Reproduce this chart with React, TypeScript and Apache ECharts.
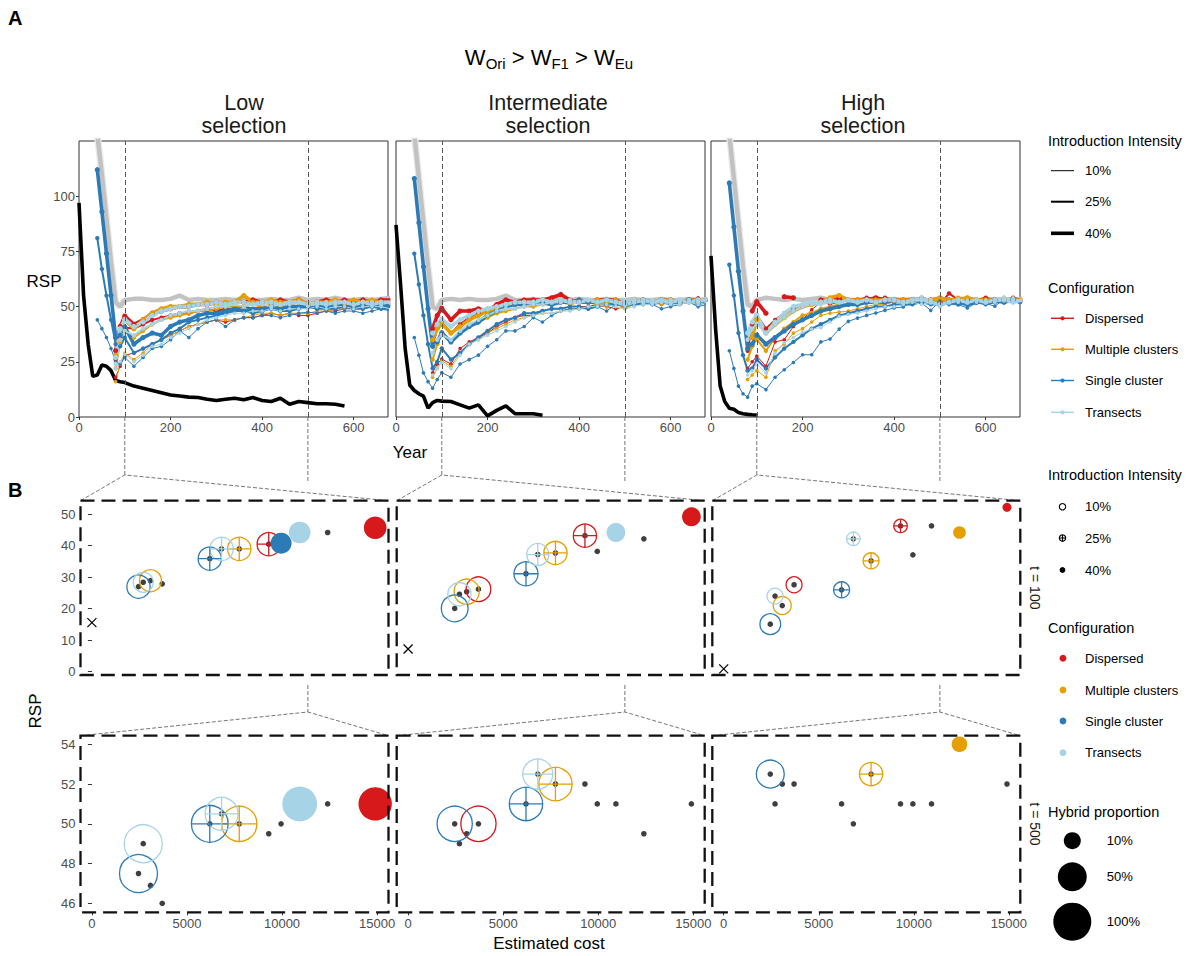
import React, { useEffect, useRef } from 'react';
import * as echarts from 'echarts';

const FONT = "'Liberation Sans', Arial, Helvetica, sans-serif";
const N = null;

// Sampling years of the simulated trajectories
const YEARS = [40, 50, 60, 70, 80, 90, 100, 120, 140, 160, 180, 200, 220, 240, 260, 280, 300, 320, 340, 360, 380, 400, 420, 440, 460, 480, 500, 520, 540, 560, 580, 600, 620, 640, 660, 680];
const YEAR_T100 = 100;
const YEAR_T500 = 500;

// ---- Low selection: RSP per configuration and introduction intensity (10 / 25 / 40 %)
const LOW_D10 = [N, N, N, N, 18, 23, 27.9, 29, 31, 33, 35, 37, 39, 41, 42, 43, 44, 43, 44, 45, 45, 46, 47, 46, 47, 46, 46, 47, 48, 48, 49, 49, 50, 50, 50, 51];
const LOW_D25 = [N, N, N, N, 26, 36, 40.5, 40, 42, 44, 45, 46, 47, 47, 48, 49, 48, 49, 49, 50, 49, 50, 50, 51, 50, 50, 49.5, 50, 51, 51, 52, 51, 52, 51, 52, 52];
const LOW_D40 = [N, N, N, N, 30, 41, 45.7, 42, 44, 47, 48, 49, 50, 50, 51, 51, 52, 51, 52, 52, 53, 52, 52, 53, 52, 53, 51, 52, 53, 52, 53, 52, 53, 52, 53, 53];
const LOW_M10 = [N, N, N, N, 16, 24, 28.9, 26, 29, 33, 35, 37, 39, 41, 42, 43, 44, 44, 44, 45, 46, 47, 47, 46, 47, 47, 46.9, 48, 48, 49, 49, 50, 49, 50, 50, 50];
const LOW_M25 = [N, N, N, N, 22, 34, 39, 36, 39, 42, 44, 45, 46, 47, 48, 48, 49, 50, 50, 50, 51, 50, 51, 50, 51, 50, 50, 51, 51, 50, 51, 51, 52, 51, 52, 51];
const LOW_M40 = [N, N, N, N, 28, 40, 44.2, 40, 44, 47, 49, 50, 50, 51, 51, 52, 51, 52, 52, 55, 52, 52, 53, 52, 52, 53, 51, 52, 52, 53, 52, 53, 52, 53, 52, 52];
const LOW_S10 = [44, 40, 36, 31, 25, 24, 27, 23, 27, 31, 32, 35, 39, 36, 40, 43, 44, 41, 44, 45, 45, 46, 46, 45, 46, 47, 47.5, 47, 48, 47, 48, 48, 47, 48, 49, 48];
const LOW_S25 = [81, 67, 55, 44, 33, 32, 35.9, 29, 31, 33, 35, 38, 40, 43, 44, 45, 46, 47, 48, 48, 47, 48, 49, 48, 48, 49, 50, 49, 49, 49, 50, 49, 49, 50, 49, 49];
const LOW_S40 = [112, 93, 74, 55, 36, 37, 40.8, 33, 36, 38, 37, 41, 43, 44, 46, 47, 47, 48, 49, 48, 49, 49, 50, 49, 50, 50, 50, 50, 50, 51, 50, 50, 51, 50, 51, 50];
const LOW_T10 = [N, N, N, N, 22, 25, 28.4, 25, 28, 32, 33, 36, 38, 40, 42, 44, 45, 46, 47, 47, 48, 48, 49, 48, 49, 49, 49, 50, 49, 50, 50, 49, 50, 50, 50, 49];
const LOW_T25 = [N, N, N, N, 24, 35, 39, 37, 40, 42, 44, 46, 47, 48, 48, 49, 50, 50, 51, 50, 51, 51, 50, 51, 51, 52, 50.5, 51, 52, 51, 52, 51, 52, 52, 51, 52];
const LOW_T40 = [N, N, N, N, 27, 40, 44.2, 41, 43, 46, 48, 49, 50, 50, 51, 51, 52, 51, 52, 52, 51, 52, 52, 51, 52, 52, 51, 52, 51, 52, 52, 51, 52, 51, 52, 52];

// ---- Intermediate selection
const INT_D10 = [N, N, N, N, 20, 24, 26.2, 24, 31, 34, 36, 38, 41, 43, 45, 46, 46, 48, 49, 49, 50, 50, 50, 51, 50, 49, 50, 51, 51, 52, 51, 52, 52, 53, 54, 52];
const INT_D25 = [N, N, N, N, 32, 40, 43.2, 38, 42, 45, 47, 49, 50, 51, 51, 52, 51, 52, 52, 53, 52, 52, 53, 52, 52, 51, 52, 52, 53, 52, 53, 52, 53, 52, 53, 53];
const INT_D40 = [N, N, N, N, 40, 46, 49.2, 44, 48, 48, 49, 48, 51, 53, 52, 53, 53, 53, 54, 55.5, 53, 52, 52, 53, 53, 53, 51, 52, 53, 52, 53, 53, 52, 53, 53, 53];
const INT_M10 = [N, N, N, N, 18, 22, 25.4, 23, 29, 33, 35, 38, 40, 42, 44, 45, 46, 47, 47, 48, 49, 49, 49, 50, 50, 51, 49.5, 51, 51, 52, 51, 52, 51, 52, 52, 53];
const INT_M25 = [N, N, N, N, 26, 33, 37.7, 34, 38, 41, 43, 45, 47, 48, 49, 50, 50, 51, 51, 52, 51, 52, 52, 51, 52, 52, 52, 53, 52, 52, 53, 52, 53, 52, 53, 52];
const INT_M40 = [N, N, N, N, 35, 40, 42.2, 38, 41, 44, 46, 48, 49, 51, 51, 52, 52, 53, 52, 53, 52, 53, 52, 53, 52, 53, 49.5, 52, 53, 52, 53, 53, 52, 53, 53, 53];
const INT_S10 = [36, 28, 20, 16, 13, 17, 20.1, 18, 24, 26, 28, 32, 35, 39, 39, 41, 45, 43, 46, 48, 49, 49, 50, 50, 48, 51, 50, 51, 51, 51, 49, 50, 51, 52, 50, 51];
const INT_S25 = [74, 60, 46, 33, 22, 25, 31.1, 26, 29, 33, 36, 39, 42, 44, 45, 47, 47, 48, 49, 49, 50, 50, 49, 50, 51, 51, 51, 51, 52, 51, 52, 51, 52, 52, 51, 52];
const INT_S40 = [108, 88, 68, 49, 32, 34, 38.2, 34, 38, 41, 43, 46, 48, 50, 51, 51, 52, 52, 51, 52, 52, 53, 52, 52, 53, 52, 51, 52, 53, 52, 53, 52, 52, 53, 52, 53];
const INT_T10 = [N, N, N, N, 19, 22, 24.6, 22, 28, 33, 35, 37, 39, 41, 43, 45, 46, 47, 47, 48, 48, 49, 50, 50, 51, 50, 49, 50, 51, 51, 52, 51, 51, 52, 51, 52];
const INT_T25 = [N, N, N, N, 29, 35, 37.2, 35, 39, 42, 44, 46, 48, 49, 49, 50, 51, 51, 52, 52, 53, 52, 53, 52, 53, 52, 52.5, 53, 52, 53, 52, 53, 52, 53, 52, 53];
const INT_T40 = [N, N, N, N, 38, 42, 44.2, 41, 44, 46, 48, 49, 50, 51, 52, 52, 52, 53, 52, 53, 52, 52, 53, 52, 53, 52, 51, 52, 53, 52, 53, 52, 53, 52, 53, 53];

// ---- High selection
const HIGH_D10 = [N, N, N, N, 22, 25, 27.6, 23, 34, 35, 41, 44, 48.6, 52, 51, 52, 53, 52, 53, 52, 53, 52, 53, 52, 53, 52, 52, 52, 53, 52, 53, 52, 53, 52, 53, 52];
const HIGH_D25 = [N, N, N, N, 30, 42, 46.3, 40, 44, 47, 49, 50, 51, 52, 52, 53, 53, 53, 54, 53, 54, 53, 53, 53, 54, 53, 51, 56, 53, 53, 53, 54, 53, 53, 54, 53];
const HIGH_D40 = [N, N, N, N, N, 48, 52.2, 47, N, 54.5, 54, N, N, 53, 53, 54, 53, 53, 53, 54, 53, 53, 53, 53, 53, 53, 52, 53, 53, 53, 53, 53, 53, 53, 53, 53];
const HIGH_M10 = [N, N, N, N, 17, 19, 21, 18, 30, 33, 38, 40, 43, 46, 47, 47.5, 48, 49, 50, 51, 51, 52, 52, 52, 52, 53, 52, 52, 53, 52, 52, 53, 52, 53, 52, 52];
const HIGH_M25 = [N, N, N, N, 26, 32, 35.2, 30, 36, 40, 43, 46, 47, 49, 50, 51, 51, 52, 52, 53, 52, 53, 52, 53, 52, 53, 52.5, 53, 54, 54, 53, 52, 53, 54, 53, 53];
const HIGH_M40 = [N, N, N, N, N, 36, 44.2, 38, 42, 45, 48, 50, 51, 52, 54, 55, 53, 53, 53, 53, 53, 53, 53, 53, 53, 53, 54, 53, 53, 54, 53, 53, 53, 53, 53, 53];
const HIGH_S10 = [30, 22, 14, 10.5, 9, 14, 15.1, 12.4, 18, 21.4, 24.7, 28.2, 28.2, 34, 35.3, 39.8, 43.3, 44.8, 46, 47.1, 48.3, 49.4, 49.8, 52.4, 51.7, 48.3, 52.5, 50.9, 50.9, 49.4, 51.7, 51.4, 50.2, 53.2, 52.4, 50.9];
const HIGH_S25 = [69, 55, 38, 28, 21, 22, 26, 22, 27, 31, 34, 37, 40, 42, 44, 46, 47, 48, 49, 50, 50, 51, 51, 51, 52, 51, 51, 52, 51, 52, 52, 51, 52, 52, 53, 52];
const HIGH_S40 = [106, 86, 66, 48, 31, 33, 37.1, 33, 36, 39, 42, 44, 46, 48, 49, 50, 51, 51, 52, 52, 52, 53, 52, 53, 52, 52, 51, 52, 52, 51, 52, 52, 53, 52, 53, 52];
const HIGH_T10 = [N, N, N, N, 19, 21, 24, 20, 29, 33.6, 36, 38.5, 39.8, 40.5, 43, 45.6, 46.4, 47.1, 48, 49, 50, 50, 51, 52, 51, 52, 51, 52, 52, 53, 52, 53, 52, 53, 54, 52];
const HIGH_T25 = [N, N, N, N, 35, 40, 42.2, 38, 42, 45, 48, 50, 51, 51, 52, 52, 53, 52, 53, 52, 53, 53, 52, 53, 54, 53, 50, 52, 53, 52, 53, 52, 53, 54, 53, 53];
const HIGH_T40 = [N, N, N, N, 38, 43, 46.3, 38, 43, 47, 50, 51, 52, 52, 53, 52, 53, 52, 53, 52, 53, 53, 52, 53, 53, 52, 51, 52, 53, 52, 53, 52, 53, 53, 52, 53];

// Reference without hybridisation (grey) per selection level
const LOW_GREY = [128, 110, 90, 70, 52, 50, 53, 53.5, 53.5, 53, 53, 53.5, 55, 53, 53.5, 53, 53, 53.5, 53, 53.5, 53, 53, 53.5, 53, 53, 54, 53, 53.5, 53, 54, 53, 53, 53.5, 53, 53.5, 54];
const INT_GREY = [128, 108, 88, 68, 50, 49, 53, 53.5, 53, 53.5, 53, 53, 53.5, 55, 53, 53, 53.5, 53, 53.5, 53, 53, 53.5, 53, 53, 53.5, 53, 53, 53.5, 53, 53, 53.5, 53, 53, 53.5, 53, 53.5];
const HIGH_GREY = [128, 108, 88, 68, 51, 50, 53, 54, 53.5, 53, 53.5, 53, 53.5, 54, 53, 53.5, 53, 53, 53.5, 53, 53, 53.5, 53, 53.5, 53, 53, 53.5, 53, 53, 53.5, 53, 53, 53.5, 53, 53, 53.5];

// No-intervention trajectories (black)
const LOW_BLACK_YEARS = [0, 10, 20, 30, 40, 50, 60, 70, 80, 90, 100, 120, 140, 160, 180, 200, 220, 240, 260, 280, 300, 320, 340, 360, 380, 400, 420, 440, 460, 480, 500, 520, 540, 560, 580];
const LOW_BLACK = [97, 55, 33, 18.5, 19, 23.5, 23, 21, 16.5, 16, 15.6, 14, 13, 12, 11, 10, 9.5, 9, 8.8, 8, 7.5, 8, 8.5, 7.8, 8.8, 7.5, 7, 8.5, 5.8, 7, 6.5, 6, 6, 5.8, 5];
const INT_BLACK_YEARS = [0, 10, 20, 30, 40, 50, 60, 70, 80, 90, 100, 120, 140, 160, 180, 200, 220, 240, 260, 280, 300, 320];
const INT_BLACK = [87, 60, 31, 14.5, 12, 10.5, 9.5, 4, 6.5, 7.5, 7.2, 7, 5.5, 4, 5.5, 0.5, 3, 5, 1.5, 1.5, 1.5, 0.8];
const HIGH_BLACK_YEARS = [0, 10, 20, 30, 40, 50, 60, 70, 80, 90, 100];
const HIGH_BLACK = [73, 40, 14, 7, 4, 3.5, 2, 1.5, 1.2, 1, 0.9];

// Estimated cost of each strategy (intensity 10 / 25 / 40 %)
const COST_D = [3700, 9300, 14900];
const COST_M = [3080, 7750, 12400];
const COST_S = [2450, 6200, 9950];
const COST_T = [2700, 6820, 10930];

// Hybrid proportion per configuration (rows D, M, S, T; columns 10 / 25 / 40 %)
const HYB_LOW_T100 = [[0, 0.27, 0.25], [0.23, 0.27, 0], [0.27, 0.27, 0.2], [0.17, 0.27, 0.22]];
const HYB_INT_T100 = [[0.32, 0.27, 0.14], [0.34, 0.27, 0], [0.4, 0.3, 0], [0.27, 0.23, 0.14]];
const HYB_HIGH_T100 = [[0.08, 0.04, 0.003], [0.12, 0.08, 0.03], [0.19, 0.08, 0], [0.08, 0.04, 0]];
const HYB_LOW_T500 = [[0, 0, 0.72], [0, 0.83, 0], [1.0, 0.92, 0], [1.0, 0.7, 0.8]];
const HYB_INT_T500 = [[0.83, 0, 0], [0, 0.72, 0], [0.83, 0.72, 0], [0, 0.55, 0]];
const HYB_HIGH_T500 = [[0, 0, 0], [0, 0.27, 0.075], [0.45, 0, 0], [0, 0, 0]];

const SELECTION_TITLES = [['Low', 'selection'], ['Intermediate', 'selection'], ['High', 'selection']];
const CONFIGS = ['Dispersed', 'Multiple clusters', 'Single cluster', 'Transects'];
const CONFIG_COLORS = ['#D7191C', '#E69F00', '#2C7BB6', '#A6D4E6'];
const INTENSITIES = ['10%', '25%', '40%'];
const HYBRID_LEGEND = [0.1, 0.5, 1];
const HYBRID_LEGEND_LABELS = ['10%', '50%', '100%'];
const YEAR_TICKS = [0, 200, 400, 600];
const RSP_TICKS_A = [0, 25, 50, 75, 100];
const RSP_TICKS_T100 = [0, 10, 20, 30, 40, 50];
const RSP_TICKS_T500 = [46, 48, 50, 52, 54];
const COST_TICKS = [0, 5000, 10000, 15000];

// ---- layout
const A_LEFT = [79, 396, 711];
const A_TOP = 141;
const A_W = 309;
const A_H = 276;
const YEAR_MAX = 675;
const B_LEFT = [80.5, 396.7, 712.3];
const B_W = 308;
const B_TOP = [500.7, 735.7];
const B_H = [174.3, 176.6];
const LINE_W = [1, 2, 3.6];
const PT_SIZE = [3.6, 4.4, 5.2];
const CROSS_PATH = 'path://M0,-10L0,10M-10,0L10,0';
const X_PATH = 'path://M-10,-10L10,10M-10,10L10,-10';

const hybridSize = (p: number) => 7.3 + 30.7 * Math.sqrt(p);
const pairs = (xs: number[], ys: (number | null)[]) => xs.map((x, i) => [x, ys[i] == null ? '-' : ys[i]]);
const plain = (v: number) => String(v);

function buildOption() {
  const selections = [
    { lines: [[LOW_D10, LOW_D25, LOW_D40], [LOW_M10, LOW_M25, LOW_M40], [LOW_S10, LOW_S25, LOW_S40], [LOW_T10, LOW_T25, LOW_T40]], grey: LOW_GREY, by: LOW_BLACK_YEARS, black: LOW_BLACK, hyb: [HYB_LOW_T100, HYB_LOW_T500] },
    { lines: [[INT_D10, INT_D25, INT_D40], [INT_M10, INT_M25, INT_M40], [INT_S10, INT_S25, INT_S40], [INT_T10, INT_T25, INT_T40]], grey: INT_GREY, by: INT_BLACK_YEARS, black: INT_BLACK, hyb: [HYB_INT_T100, HYB_INT_T500] },
    { lines: [[HIGH_D10, HIGH_D25, HIGH_D40], [HIGH_M10, HIGH_M25, HIGH_M40], [HIGH_S10, HIGH_S25, HIGH_S40], [HIGH_T10, HIGH_T25, HIGH_T40]], grey: HIGH_GREY, by: HIGH_BLACK_YEARS, black: HIGH_BLACK, hyb: [HYB_HIGH_T100, HYB_HIGH_T500] },
  ];
  const costs = [COST_D, COST_M, COST_S, COST_T];
  const grids: any[] = [];
  const xAxes: any[] = [];
  const yAxes: any[] = [];
  const series: any[] = [];
  const tickStyle = { color: '#333', width: 1 };
  const labelStyle = { color: '#4D4D4D', fontSize: 13, fontFamily: FONT, formatter: plain };

  // Panel A grids
  for (let s = 0; s < 3; s++) {
    grids.push({ left: A_LEFT[s], top: A_TOP, width: A_W, height: A_H, show: true, borderColor: '#333', borderWidth: 1, backgroundColor: 'transparent' });
    xAxes.push({
      type: 'value', gridIndex: s, min: 0, max: YEAR_MAX,
      axisLine: { show: false }, splitLine: { show: false },
      axisTick: { show: true, length: 3, lineStyle: tickStyle, customValues: YEAR_TICKS },
      axisLabel: { ...labelStyle, margin: 4, customValues: YEAR_TICKS },
    });
    yAxes.push({
      type: 'value', gridIndex: s, min: 0, max: 125,
      axisLine: { show: false }, splitLine: { show: false },
      axisTick: { show: s === 0, length: 3, lineStyle: tickStyle, customValues: RSP_TICKS_A },
      axisLabel: { show: s === 0, ...labelStyle, margin: 4, customValues: RSP_TICKS_A },
    });
  }
  // Panel B grids (row: t = 100, t = 500)
  for (let r = 0; r < 2; r++) {
    for (let s = 0; s < 3; s++) {
      const gi = grids.length;
      grids.push({ left: B_LEFT[s], top: B_TOP[r], width: B_W, height: B_H[r], show: false });
      xAxes.push({
        type: 'value', gridIndex: gi, min: -600, max: 15600,
        axisLine: { show: false }, splitLine: { show: false },
        axisTick: { show: r === 1, length: 3, lineStyle: tickStyle, customValues: COST_TICKS },
        axisLabel: { show: r === 1, ...labelStyle, margin: 5, customValues: COST_TICKS },
      });
      const ticks = r === 0 ? RSP_TICKS_T100 : RSP_TICKS_T500;
      yAxes.push({
        type: 'value', gridIndex: gi,
        min: r === 0 ? -1.05 : 45.55, max: r === 0 ? 54.3 : 54.43,
        axisLine: { show: false }, splitLine: { show: false },
        axisTick: { show: s === 0, length: 4, lineStyle: tickStyle, customValues: ticks },
        axisLabel: { show: s === 0, ...labelStyle, margin: 5, customValues: ticks },
      });
    }
  }

  const common = { silent: true, emphasis: { disabled: true }, animation: false };

  selections.forEach((sel, s) => {
    // faint ribbon along the early decline of the reference
    series.push({ ...common, type: 'line', xAxisIndex: s, yAxisIndex: s, data: pairs(YEARS.slice(0, 7), sel.grey.slice(0, 7)), symbol: 'none', lineStyle: { color: '#EBEBEB', width: 7 } });
    series.push({
      ...common, type: 'line', xAxisIndex: s, yAxisIndex: s, data: pairs(YEARS, sel.grey), symbol: 'none',
      lineStyle: { color: '#C2C2C2', width: 4.5 },
      markLine: {
        silent: true, symbol: ['none', 'none'], label: { show: false },
        lineStyle: { color: '#555', type: [5, 3], width: 1 },
        data: [{ xAxis: YEAR_T100 }, { xAxis: YEAR_T500 }],
      },
    });
    sel.lines.forEach((cfg, c) => {
      cfg.forEach((vals, j) => {
        series.push({
          ...common, type: 'line', xAxisIndex: s, yAxisIndex: s, data: pairs(YEARS, vals),
          symbol: 'circle', symbolSize: PT_SIZE[j], showSymbol: true,
          lineStyle: { color: CONFIG_COLORS[c], width: LINE_W[j] },
          itemStyle: { color: CONFIG_COLORS[c], opacity: 1 },
        });
      });
    });
    series.push({ ...common, type: 'line', xAxisIndex: s, yAxisIndex: s, data: pairs(sel.by, sel.black), symbol: 'none', lineStyle: { color: '#000', width: 3.6 } });

    // Panel B: snapshots at t = 100 and t = 500
    [YEAR_T100, YEAR_T500].forEach((yr, r) => {
      const ai = 3 + r * 3 + s;
      const yi = YEARS.indexOf(yr);
      const dark: any[] = [];
      const open: any[] = [];
      const cross: any[] = [];
      const filled: any[] = [];
      sel.lines.forEach((cfg, c) => {
        cfg.forEach((vals, j) => {
          const rsp = vals[yi];
          const cost = costs[c][j];
          const p = sel.hyb[r][c][j];
          dark.push([cost, rsp]);
          if (p > 0) {
            const item = { value: [cost, rsp, p], color: CONFIG_COLORS[c] };
            [open, cross, filled][j].push(item);
          }
        });
      });
      const sized = (v: any) => hybridSize(v[2]);
      series.push({ ...common, type: 'scatter', xAxisIndex: ai, yAxisIndex: ai, data: dark, symbol: 'circle', symbolSize: 5.6, itemStyle: { color: '#3F3F3F', opacity: 1 } });
      const stroke = (arr: any[], symbol: string) => ({
        ...common, type: 'scatter', xAxisIndex: ai, yAxisIndex: ai, symbol, symbolSize: sized,
        data: arr.map((d) => ({ value: d.value, itemStyle: { color: 'rgba(0,0,0,0)', borderColor: d.color, borderWidth: 1.3, opacity: 1 } })),
      });
      series.push(stroke(open, 'circle'));
      series.push(stroke(cross, 'circle'));
      series.push(stroke(cross, CROSS_PATH));
      series.push({
        ...common, type: 'scatter', xAxisIndex: ai, yAxisIndex: ai, symbol: 'circle', symbolSize: sized,
        data: filled.map((d) => ({ value: d.value, itemStyle: { color: d.color, opacity: 1 } })),
      });
      if (r === 0) {
        const bi = sel.by.indexOf(yr);
        series.push({
          ...common, type: 'scatter', xAxisIndex: ai, yAxisIndex: ai, symbol: X_PATH, symbolSize: 9,
          data: [[0, sel.black[bi]]], itemStyle: { color: 'rgba(0,0,0,0)', borderColor: '#000', borderWidth: 1.2, opacity: 1 },
        });
      }
    });
  });

  // ---- graphic: titles, connectors, dashed boxes, legends
  const g: any[] = [];
  const text = (x: number, y: number, t: string, size: number, opts: any = {}) => {
    const { rotation, ...style } = opts;
    const el: any = { type: 'text', x, y, z: 100, silent: true, style: { text: t, fontSize: size, fontFamily: FONT, fill: '#000', align: 'center', verticalAlign: 'middle', ...style } };
    if (rotation) el.rotation = rotation;
    return el;
  };
  g.push(text(8, 18, 'A', 20, { align: 'left', fontWeight: 'bold' }));
  g.push(text(8, 490, 'B', 20, { align: 'left', fontWeight: 'bold' }));
  g.push({
    type: 'text', x: 549, y: 57, z: 100, silent: true,
    style: {
      text: '{n|W}{s|Ori}{n| > W}{s|F1}{n| > W}{s|Eu}', align: 'center', verticalAlign: 'middle', fontFamily: FONT,
      rich: {
        n: { fontSize: 22, lineHeight: 28, fill: '#000', fontFamily: FONT },
        s: { fontSize: 15, lineHeight: 15, verticalAlign: 'bottom', fill: '#000', fontFamily: FONT },
      },
    },
  });
  const titleX = [244, 548, 863];
  SELECTION_TITLES.forEach((t, s) => {
    g.push(text(titleX[s], 103, t[0], 21.5, { fill: '#1A1A1A' }));
    g.push(text(titleX[s], 126, t[1], 21.5, { fill: '#1A1A1A' }));
  });
  g.push(text(44, 281, 'RSP', 17));
  g.push(text(410, 452, 'Year', 17));
  g.push(text(35, 711, 'RSP', 17, { rotation: Math.PI / 2 }));
  g.push(text(549, 943, 'Estimated cost', 17));
  g.push(text(1035, B_TOP[0] + B_H[0] / 2, 't = 100', 14, { rotation: -Math.PI / 2, fill: '#1A1A1A' }));
  g.push(text(1035, B_TOP[1] + B_H[1] / 2, 't = 500', 14, { rotation: -Math.PI / 2, fill: '#1A1A1A' }));

  const conn = { stroke: '#666', lineWidth: 0.9, lineDash: [4, 2], fill: 'none' };
  for (let s = 0; s < 3; s++) {
    const x100 = A_LEFT[s] + (YEAR_T100 / YEAR_MAX) * A_W;
    const x500 = A_LEFT[s] + (YEAR_T500 / YEAR_MAX) * A_W;
    const l = B_LEFT[s];
    const rgt = B_LEFT[s] + B_W;
    const bottomA = A_TOP + A_H;
    g.push({ type: 'polyline', z: 90, silent: true, shape: { points: [[x100, bottomA], [x100, 475]] }, style: conn });
    g.push({ type: 'polyline', z: 90, silent: true, shape: { points: [[l, B_TOP[0]], [x100, 475], [rgt, B_TOP[0]]] }, style: conn });
    g.push({ type: 'polyline', z: 90, silent: true, shape: { points: [[x500, bottomA], [x500, 483]] }, style: conn });
    g.push({ type: 'polyline', z: 90, silent: true, shape: { points: [[x500, 685], [x500, 712]] }, style: conn });
    g.push({ type: 'polyline', z: 90, silent: true, shape: { points: [[l, B_TOP[1]], [x500, 712], [rgt, B_TOP[1]]] }, style: conn });
    for (let r = 0; r < 2; r++) {
      g.push({ type: 'rect', z: 100, silent: true, shape: { x: l, y: B_TOP[r], width: B_W, height: B_H[r] }, style: { fill: 'none', stroke: '#111', lineWidth: 2.3, lineDash: [14, 7] } });
    }
  }

  // Legend for panel A
  const lt = (x: number, y: number, t: string, size = 13) => text(x, y, t, size, { align: 'left' });
  g.push(lt(1048, 141, 'Introduction Intensity', 14.5));
  [170.7, 201.7, 233.3].forEach((y, j) => {
    g.push({ type: 'line', z: 100, silent: true, shape: { x1: 1051, y1: y, x2: 1074, y2: y }, style: { stroke: '#000', lineWidth: LINE_W[j] } });
    g.push(lt(1085, y, INTENSITIES[j]));
  });
  g.push(lt(1048, 288.3, 'Configuration', 14.5));
  [318.3, 349.3, 380.5, 412.3].forEach((y, c) => {
    g.push({ type: 'line', z: 100, silent: true, shape: { x1: 1051, y1: y, x2: 1074, y2: y }, style: { stroke: CONFIG_COLORS[c], lineWidth: 1.4 } });
    g.push({ type: 'circle', z: 101, silent: true, shape: { cx: 1062.5, cy: y, r: 2.1 }, style: { fill: CONFIG_COLORS[c] } });
    g.push(lt(1085, y, CONFIGS[c]));
  });

  // Legend for panel B
  g.push(lt(1048, 475, 'Introduction Intensity', 14.5));
  const iy = [506.7, 538, 570];
  g.push({ type: 'circle', z: 100, silent: true, shape: { cx: 1062.5, cy: iy[0], r: 3.2 }, style: { fill: 'none', stroke: '#000', lineWidth: 1.1 } });
  g.push({ type: 'circle', z: 100, silent: true, shape: { cx: 1062.5, cy: iy[1], r: 3.2 }, style: { fill: 'none', stroke: '#000', lineWidth: 1.1 } });
  g.push({ type: 'line', z: 100, silent: true, shape: { x1: 1059.3, y1: iy[1], x2: 1065.7, y2: iy[1] }, style: { stroke: '#000', lineWidth: 1.1 } });
  g.push({ type: 'line', z: 100, silent: true, shape: { x1: 1062.5, y1: iy[1] - 3.2, x2: 1062.5, y2: iy[1] + 3.2 }, style: { stroke: '#000', lineWidth: 1.1 } });
  g.push({ type: 'circle', z: 100, silent: true, shape: { cx: 1062.5, cy: iy[2], r: 2.9 }, style: { fill: '#000' } });
  iy.forEach((y, j) => g.push(lt(1085, y, INTENSITIES[j])));
  g.push(lt(1048, 628, 'Configuration', 14.5));
  [658.3, 690, 721, 752.7].forEach((y, c) => {
    g.push({ type: 'circle', z: 100, silent: true, shape: { cx: 1063, cy: y, r: 3.4 }, style: { fill: CONFIG_COLORS[c] } });
    g.push(lt(1085, y, CONFIGS[c]));
  });
  g.push(lt(1048, 811.7, 'Hybrid proportion', 14.5));
  [840.7, 876.7, 921.7].forEach((y, k) => {
    g.push({ type: 'circle', z: 100, silent: true, shape: { cx: 1072.3, cy: y, r: hybridSize(HYBRID_LEGEND[k]) / 2 }, style: { fill: '#000' } });
    g.push(lt(1106.7, y, HYBRID_LEGEND_LABELS[k]));
  });

  return {
    animation: false,
    backgroundColor: '#fff',
    textStyle: { fontFamily: FONT },
    grid: grids,
    xAxis: xAxes,
    yAxis: yAxes,
    series,
    graphic: { elements: g },
  };
}

export default function App() {
  const ref = useRef<HTMLDivElement>(null);
  useEffect(() => {
    document.body.style.margin = '0';
    const chart = echarts.init(ref.current as HTMLDivElement, null, { renderer: 'svg', width: 1197, height: 956 });
    chart.setOption(buildOption() as any);
    return () => chart.dispose();
  }, []);
  return <div ref={ref} style={{ position: 'absolute', left: 0, top: 0, width: 1197, height: 956 }} />;
}
